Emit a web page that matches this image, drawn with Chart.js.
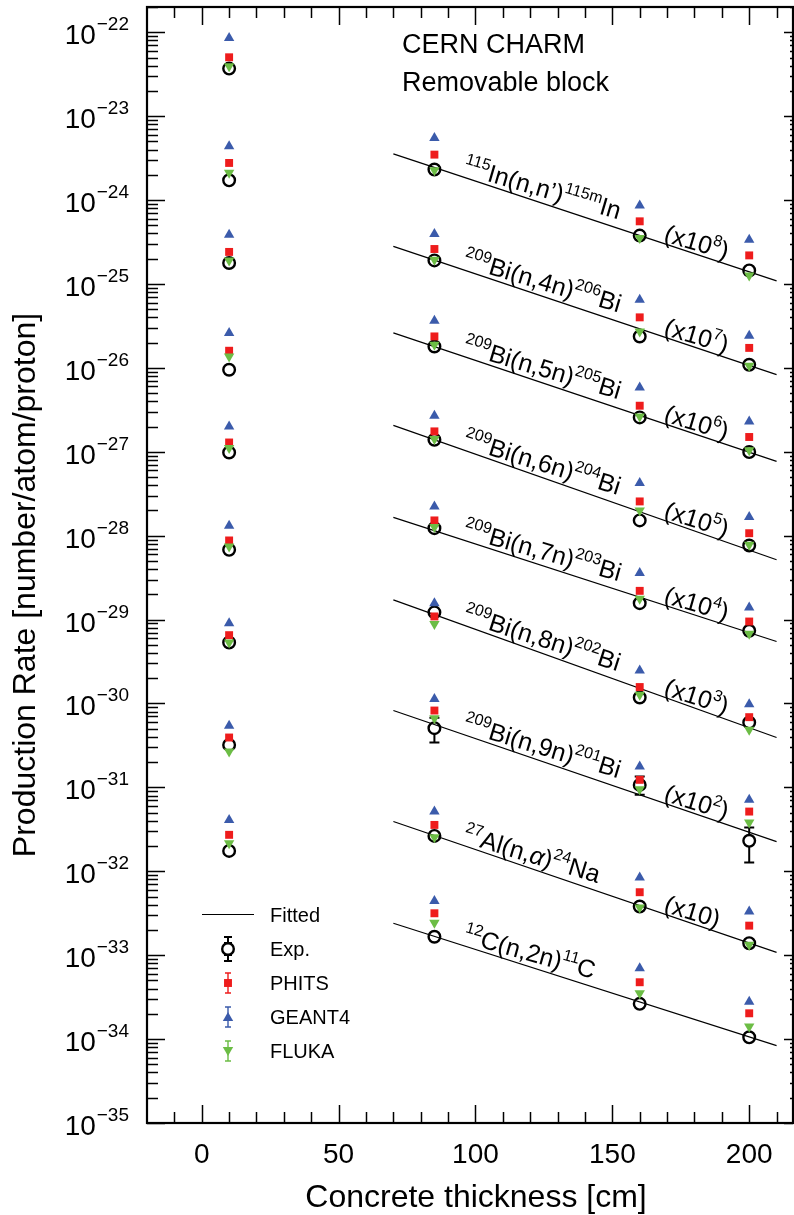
<!DOCTYPE html>
<html>
<head>
<meta charset="utf-8">
<script src="https://cdn.jsdelivr.net/npm/chart.js@4.4.0/dist/chart.umd.min.js"></script>
<style>
  body { margin: 0; background: #fff; }
  #canvasOne { display: block; }
</style>
</head>
<body>
<canvas id="canvasOne" width="794" height="1215"></canvas>
<script>
// concrete thickness of the four measuring positions [cm]
var thickness = [10, 85, 160, 200];
var fitRange = [70, 210];

// rows: In-115m, Bi-206, Bi-205, Bi-204, Bi-203, Bi-202, Bi-201, Na-24, C-11 (already scaled)
var expRate = [
  [3.69e-23, 2.31e-24, 3.77e-25, 1.45e-25],
  [1.72e-24, 1.91e-25, 2.37e-26, 1.09e-26],
  [1.78e-25, 1.80e-26, 2.57e-27, 9.93e-28],
  [9.5e-27, 1.39e-27, 1.52e-28, 7.64e-29],
  [9.8e-28, 1.23e-28, 1.57e-29, 7.35e-30],
  [6.79e-29, 1.22e-29, 1.18e-30, 5.93e-31],
  [5.33e-30, 5.08e-31, 1.07e-31, 2.31e-32],
  [3.21e-31, 2.64e-32, 3.80e-33, 1.39e-33],
  [1.75e-32, 1.66e-33, 2.63e-34, 1.05e-34]
];
var expErrLow = [null, null, null, null, null, null, [null, 3.42e-31, 8.15e-32, 1.27e-32], null, null];
var expErrHigh = [null, null, null, null, null, null, [null, 6.74e-31, 1.35e-31, 3.32e-32], null, null];

var phitsRate = [
  [5.03e-23, 3.48e-24, 5.58e-25, 2.19e-25],
  [2.77e-24, 2.61e-25, 4.0e-26, 1.73e-26],
  [2.41e-25, 2.37e-26, 3.54e-27, 1.50e-27],
  [1.60e-26, 1.75e-27, 2.56e-28, 1.07e-28],
  [1.29e-27, 1.52e-28, 2.20e-29, 9.48e-30],
  [8.77e-29, 1.09e-29, 1.57e-30, 6.87e-31],
  [6.52e-30, 8.24e-31, 1.23e-31, 5.15e-32],
  [3.93e-31, 3.57e-32, 5.63e-33, 2.25e-33],
  [2.72e-32, 3.16e-33, 4.76e-34, 2.03e-34]
];
var geant4Rate = [
  [8.57e-23, 5.51e-24, 8.59e-25, 3.37e-25],
  [4.37e-24, 3.95e-25, 6.50e-26, 2.42e-26],
  [3.87e-25, 3.65e-26, 5.85e-27, 2.30e-27],
  [2.61e-26, 2.69e-27, 4.24e-28, 1.67e-28],
  [2.0e-27, 2.23e-28, 3.58e-29, 1.39e-29],
  [1.31e-28, 1.57e-29, 2.47e-30, 9.82e-31],
  [9.06e-30, 1.13e-30, 1.77e-31, 7.10e-32],
  [5.42e-31, 5.15e-32, 8.41e-33, 3.31e-33],
  [4.1e-32, 4.43e-33, 7.0e-34, 2.79e-34]
];
var flukaRate = [
  [3.93e-23, 2.26e-24, 3.54e-25, 1.26e-25],
  [2.11e-24, 1.95e-25, 2.72e-26, 1.06e-26],
  [1.91e-25, 1.89e-26, 2.64e-27, 1.04e-27],
  [1.37e-26, 1.42e-27, 2.0e-28, 7.79e-29],
  [1.11e-27, 1.27e-28, 1.77e-29, 6.77e-30],
  [7.44e-29, 8.83e-30, 1.27e-30, 4.85e-31],
  [5.33e-30, 6.69e-31, 9.53e-32, 3.81e-32],
  [2.67e-31, 2.55e-32, 3.69e-33, 1.33e-33],
  [2.16e-32, 2.44e-33, 3.52e-34, 1.41e-34]
];
// fitted exponential attenuation, value at x = 70 and x = 210
var fitRate = [
  [3.55e-24, 1.09e-25],
  [2.81e-25, 8.3e-27],
  [2.61e-26, 7.67e-28],
  [2.06e-27, 5.16e-29],
  [1.65e-28, 5.48e-30],
  [1.72e-29, 3.93e-31],
  [8.24e-31, 2.26e-32],
  [3.92e-32, 1.08e-33],
  [2.40e-33, 8.36e-35]
];

// [text, superscript, italic]
var reactionLabels = [
  [['115', 1], ['In(n,n\u2019)', 0], ['115m', 1], ['In', 0]],
  [['209', 1], ['Bi(n,4n)', 0], ['206', 1], ['Bi', 0]],
  [['209', 1], ['Bi(n,5n)', 0], ['205', 1], ['Bi', 0]],
  [['209', 1], ['Bi(n,6n)', 0], ['204', 1], ['Bi', 0]],
  [['209', 1], ['Bi(n,7n)', 0], ['203', 1], ['Bi', 0]],
  [['209', 1], ['Bi(n,8n)', 0], ['202', 1], ['Bi', 0]],
  [['209', 1], ['Bi(n,9n)', 0], ['201', 1], ['Bi', 0]],
  [['27', 1], ['Al(n,', 0], ['\u03b1', 0, 1], [')', 0], ['24', 1], ['Na', 0]],
  [['12', 1], ['C(n,2n)', 0], ['11', 1], ['C', 0]]
];
var scaleExp = ['8', '7', '6', '5', '4', '3', '2', '', null];
var labelAt = 95, scaleAt = 168.4;

var xTicks = [0, 50, 100, 150, 200];
var yDecades = [-22, -23, -24, -25, -26, -27, -28, -29, -30, -31, -32, -33, -34, -35];

var FONT = '"Liberation Sans", Arial, Helvetica, sans-serif';
var RED = '#ee1c1c', BLUE = '#3b5bab', GREEN = '#6cbd45';

function pts(rows) {
  var out = [];
  rows.forEach(function(r) {
    r.forEach(function(v, i) { out.push({x: thickness[i], y: v}); });
  });
  return out;
}

function fitAt(row, x) {
  var a = Math.log10(fitRate[row][0]), b = Math.log10(fitRate[row][1]);
  return Math.pow(10, a + (x - fitRange[0]) / (fitRange[1] - fitRange[0]) * (b - a));
}

function drawRich(c, segs, x, y, ang, size) {
  c.save();
  c.translate(x, y);
  c.rotate(ang);
  c.textBaseline = 'alphabetic';
  c.textAlign = 'left';
  var cx = 0;
  segs.forEach(function(s) {
    var sup = s[1];
    c.font = (s[2] ? 'italic ' : '') + (sup ? Math.round(size * 0.62) : size) + 'px ' + FONT;
    c.fillText(s[0], cx, sup ? -size * 0.42 : 0);
    cx += c.measureText(s[0]).width;
  });
  c.restore();
}

function marker(c, style, x, y, r, color) {
  c.fillStyle = color;
  c.beginPath();
  if (style == 'rect') {
    var s = r * Math.SQRT1_2;
    c.rect(x - s, y - s, 2 * s, 2 * s);
  } else if (style == 'up') {
    c.moveTo(x, y - r);
    c.lineTo(x + r * 0.866, y + r / 2);
    c.lineTo(x - r * 0.866, y + r / 2);
  } else {
    c.moveTo(x, y + r);
    c.lineTo(x + r * 0.866, y - r / 2);
    c.lineTo(x - r * 0.866, y - r / 2);
  }
  c.closePath();
  c.fill();
}

function vbar(c, x, y1, y2, cap, color, lw) {
  c.strokeStyle = color;
  c.lineWidth = lw;
  c.beginPath();
  c.moveTo(x, y1); c.lineTo(x, y2);
  c.moveTo(x - cap, y1); c.lineTo(x + cap, y1);
  c.moveTo(x - cap, y2); c.lineTo(x + cap, y2);
  c.stroke();
}

var decor = {
  id: 'decor',
  beforeDatasetsDraw: function(chart) {
    var c = chart.ctx, xs = chart.scales.x, ys = chart.scales.y;
    // experimental error bars
    c.save();
    expErrLow.forEach(function(row, r) {
      if (!row) return;
      row.forEach(function(lo, i) {
        if (lo == null) return;
        var px = xs.getPixelForValue(thickness[i]);
        var pc = ys.getPixelForValue(expRate[r][i]);
        var pl = ys.getPixelForValue(lo), ph = ys.getPixelForValue(expErrHigh[r][i]);
        c.strokeStyle = '#000'; c.lineWidth = 2;
        c.beginPath();
        if (ph < pc - 6) { c.moveTo(px, pc - 6); c.lineTo(px, ph); }
        if (pl > pc + 6) { c.moveTo(px, pc + 6); c.lineTo(px, pl); }
        c.moveTo(px - 5, ph); c.lineTo(px + 5, ph);
        c.moveTo(px - 5, pl); c.lineTo(px + 5, pl);
        c.stroke();
      });
    });
    c.restore();
  },
  afterDatasetsDraw: function(chart) {
    var c = chart.ctx, xs = chart.scales.x, ys = chart.scales.y, a = chart.chartArea;
    c.save();
    c.fillStyle = '#000';

    // reaction labels along the fitted lines
    reactionLabels.forEach(function(segs, r) {
      var x1 = xs.getPixelForValue(fitRange[0]), y1 = ys.getPixelForValue(fitRate[r][0]);
      var x2 = xs.getPixelForValue(fitRange[1]), y2 = ys.getPixelForValue(fitRate[r][1]);
      var ang = Math.atan2(y2 - y1, x2 - x1) - 2 * Math.PI / 180;
      c.fillStyle = '#000';
      drawRich(c, segs, xs.getPixelForValue(labelAt), ys.getPixelForValue(fitAt(r, labelAt)) - 3, ang, 25);
      var e = scaleExp[r];
      if (e != null) {
        var sg = e === '' ? [['(x10)', 0]] : [['(x10', 0], [e, 1], [')', 0]];
        drawRich(c, sg, xs.getPixelForValue(scaleAt), ys.getPixelForValue(fitAt(r, scaleAt)) - 2, ang, 25);
      }
    });

    // frame and inward ticks
    c.strokeStyle = '#000';
    c.lineWidth = 1.5;
    c.beginPath();
    for (var v = -10; v <= 210; v += 10) {
      var px = Math.round(xs.getPixelForValue(v)) + 0.5;
      var len = v % 50 == 0 ? 18 : 11;
      c.moveTo(px, a.bottom); c.lineTo(px, a.bottom - len);
      c.moveTo(px, a.top); c.lineTo(px, a.top + len);
    }
    for (var d = -35; d <= -22; d++) {
      for (var m = 1; m <= 9; m++) {
        var val = m * Math.pow(10, d);
        if (val > ys.max) break;
        var py = Math.round(ys.getPixelForValue(val)) + 0.5;
        var maj = m == 1;
        c.moveTo(a.left, py); c.lineTo(a.left + (maj ? 18 : 11), py);
        c.moveTo(a.right, py); c.lineTo(a.right - (maj ? 9 : 3), py);
      }
    }
    c.stroke();
    c.lineWidth = 2.2;
    c.strokeRect(a.left, a.top, a.right - a.left, a.bottom - a.top);

    // tick labels
    c.fillStyle = '#000';
    c.textBaseline = 'alphabetic';
    c.font = '28px ' + FONT;
    c.textAlign = 'center';
    xTicks.forEach(function(t) {
      c.fillText(String(t), xs.getPixelForValue(t), 1163);
    });
    yDecades.forEach(function(d) {
      var py = ys.getPixelForValue(Math.pow(10, d));
      var sup = '\u2212' + String(-d);
      c.font = '19px ' + FONT;
      var ws = c.measureText(sup).width;
      c.textAlign = 'right';
      c.fillText(sup, 129, py - 2);
      c.font = '28px ' + FONT;
      c.fillText('10', 129 - ws - 1, py + 12);
    });

    // axis titles
    c.font = '32px ' + FONT;
    c.textAlign = 'center';
    c.fillText('Concrete thickness [cm]', 476, 1207);
    c.save();
    c.translate(35, 585);
    c.rotate(-Math.PI / 2);
    c.fillText('Production Rate [number/atom/proton]', 0, 0);
    c.restore();

    // header
    c.textAlign = 'left';
    c.font = '27px ' + FONT;
    c.fillText('CERN CHARM', 402, 53);
    c.fillText('Removable block', 402, 91);

    // legend
    c.font = '20px ' + FONT;
    c.strokeStyle = '#000'; c.lineWidth = 1.2;
    c.beginPath(); c.moveTo(202, 914.5); c.lineTo(254, 914.5); c.stroke();
    c.fillText('Fitted', 270, 922);
    vbar(c, 228, 937, 943, 4, '#000', 2);
    vbar(c, 228, 955, 961, 4, '#000', 2);
    c.beginPath(); c.lineWidth = 2.4; c.arc(228, 949, 5.8, 0, 2 * Math.PI); c.stroke();
    c.fillStyle = '#000'; c.fillText('Exp.', 270, 956);
    vbar(c, 228, 973, 993, 3, RED, 1.4);
    marker(c, 'rect', 228, 983, 5.6, RED);
    c.fillStyle = '#000'; c.fillText('PHITS', 270, 990);
    vbar(c, 228, 1007, 1027, 3, BLUE, 1.4);
    marker(c, 'up', 228, 1018, 6, BLUE);
    c.fillStyle = '#000'; c.fillText('GEANT4', 270, 1024);
    vbar(c, 228, 1041, 1061, 3, GREEN, 1.4);
    marker(c, 'down', 228, 1050, 6, GREEN);
    c.fillStyle = '#000'; c.fillText('FLUKA', 270, 1058);
    c.restore();
  }
};

var datasets = [
  { label: 'Exp.', data: pts(expRate), pointStyle: 'circle', pointRadius: 5.8, pointBorderWidth: 2.4,
    borderColor: '#000', backgroundColor: 'rgba(0,0,0,0)', pointBackgroundColor: 'rgba(0,0,0,0)', order: 4 },
  { label: 'PHITS', data: pts(phitsRate), pointStyle: 'rect', pointRadius: 5.6, pointBorderWidth: 0,
    borderColor: RED, backgroundColor: RED, order: 3 },
  { label: 'GEANT4', data: pts(geant4Rate), pointStyle: 'triangle', pointRadius: 6, pointBorderWidth: 0,
    borderColor: BLUE, backgroundColor: BLUE, order: 2 },
  { label: 'FLUKA', data: pts(flukaRate), pointStyle: 'triangle', pointRotation: 180, pointRadius: 6, pointBorderWidth: 0,
    borderColor: GREEN, backgroundColor: GREEN, order: 1 }
];
fitRate.forEach(function(f, r) {
  datasets.push({
    label: 'Fitted', showLine: true, order: 10,
    data: [{x: fitRange[0], y: f[0]}, {x: fitRange[1], y: f[1]}],
    borderColor: '#000', borderWidth: 1.2, pointRadius: 0, fill: false
  });
});

var ctx = document.getElementById('canvasOne').getContext('2d');
var config = {
  type: 'scatter',
  data: { datasets: datasets },
  options: {
    responsive: false,
    animation: false,
    devicePixelRatio: 1,
    layout: { autoPadding: false, padding: { top: 7, right: 1, left: 0, bottom: 0 } },
    plugins: { legend: { display: false }, tooltip: { enabled: false } },
    scales: {
      x: {
        type: 'linear', min: -20, max: 216,
        grid: { display: false }, border: { display: false }, ticks: { display: false },
        afterFit: function(s) { s.height = 92; }
      },
      y: {
        type: 'logarithmic', min: 1e-35, max: 2e-22,
        grid: { display: false }, border: { display: false }, ticks: { display: false },
        afterFit: function(s) { s.width = 147; }
      }
    }
  },
  plugins: [decor]
};

var chart = new Chart(ctx, config);
</script>
</body>
</html>
